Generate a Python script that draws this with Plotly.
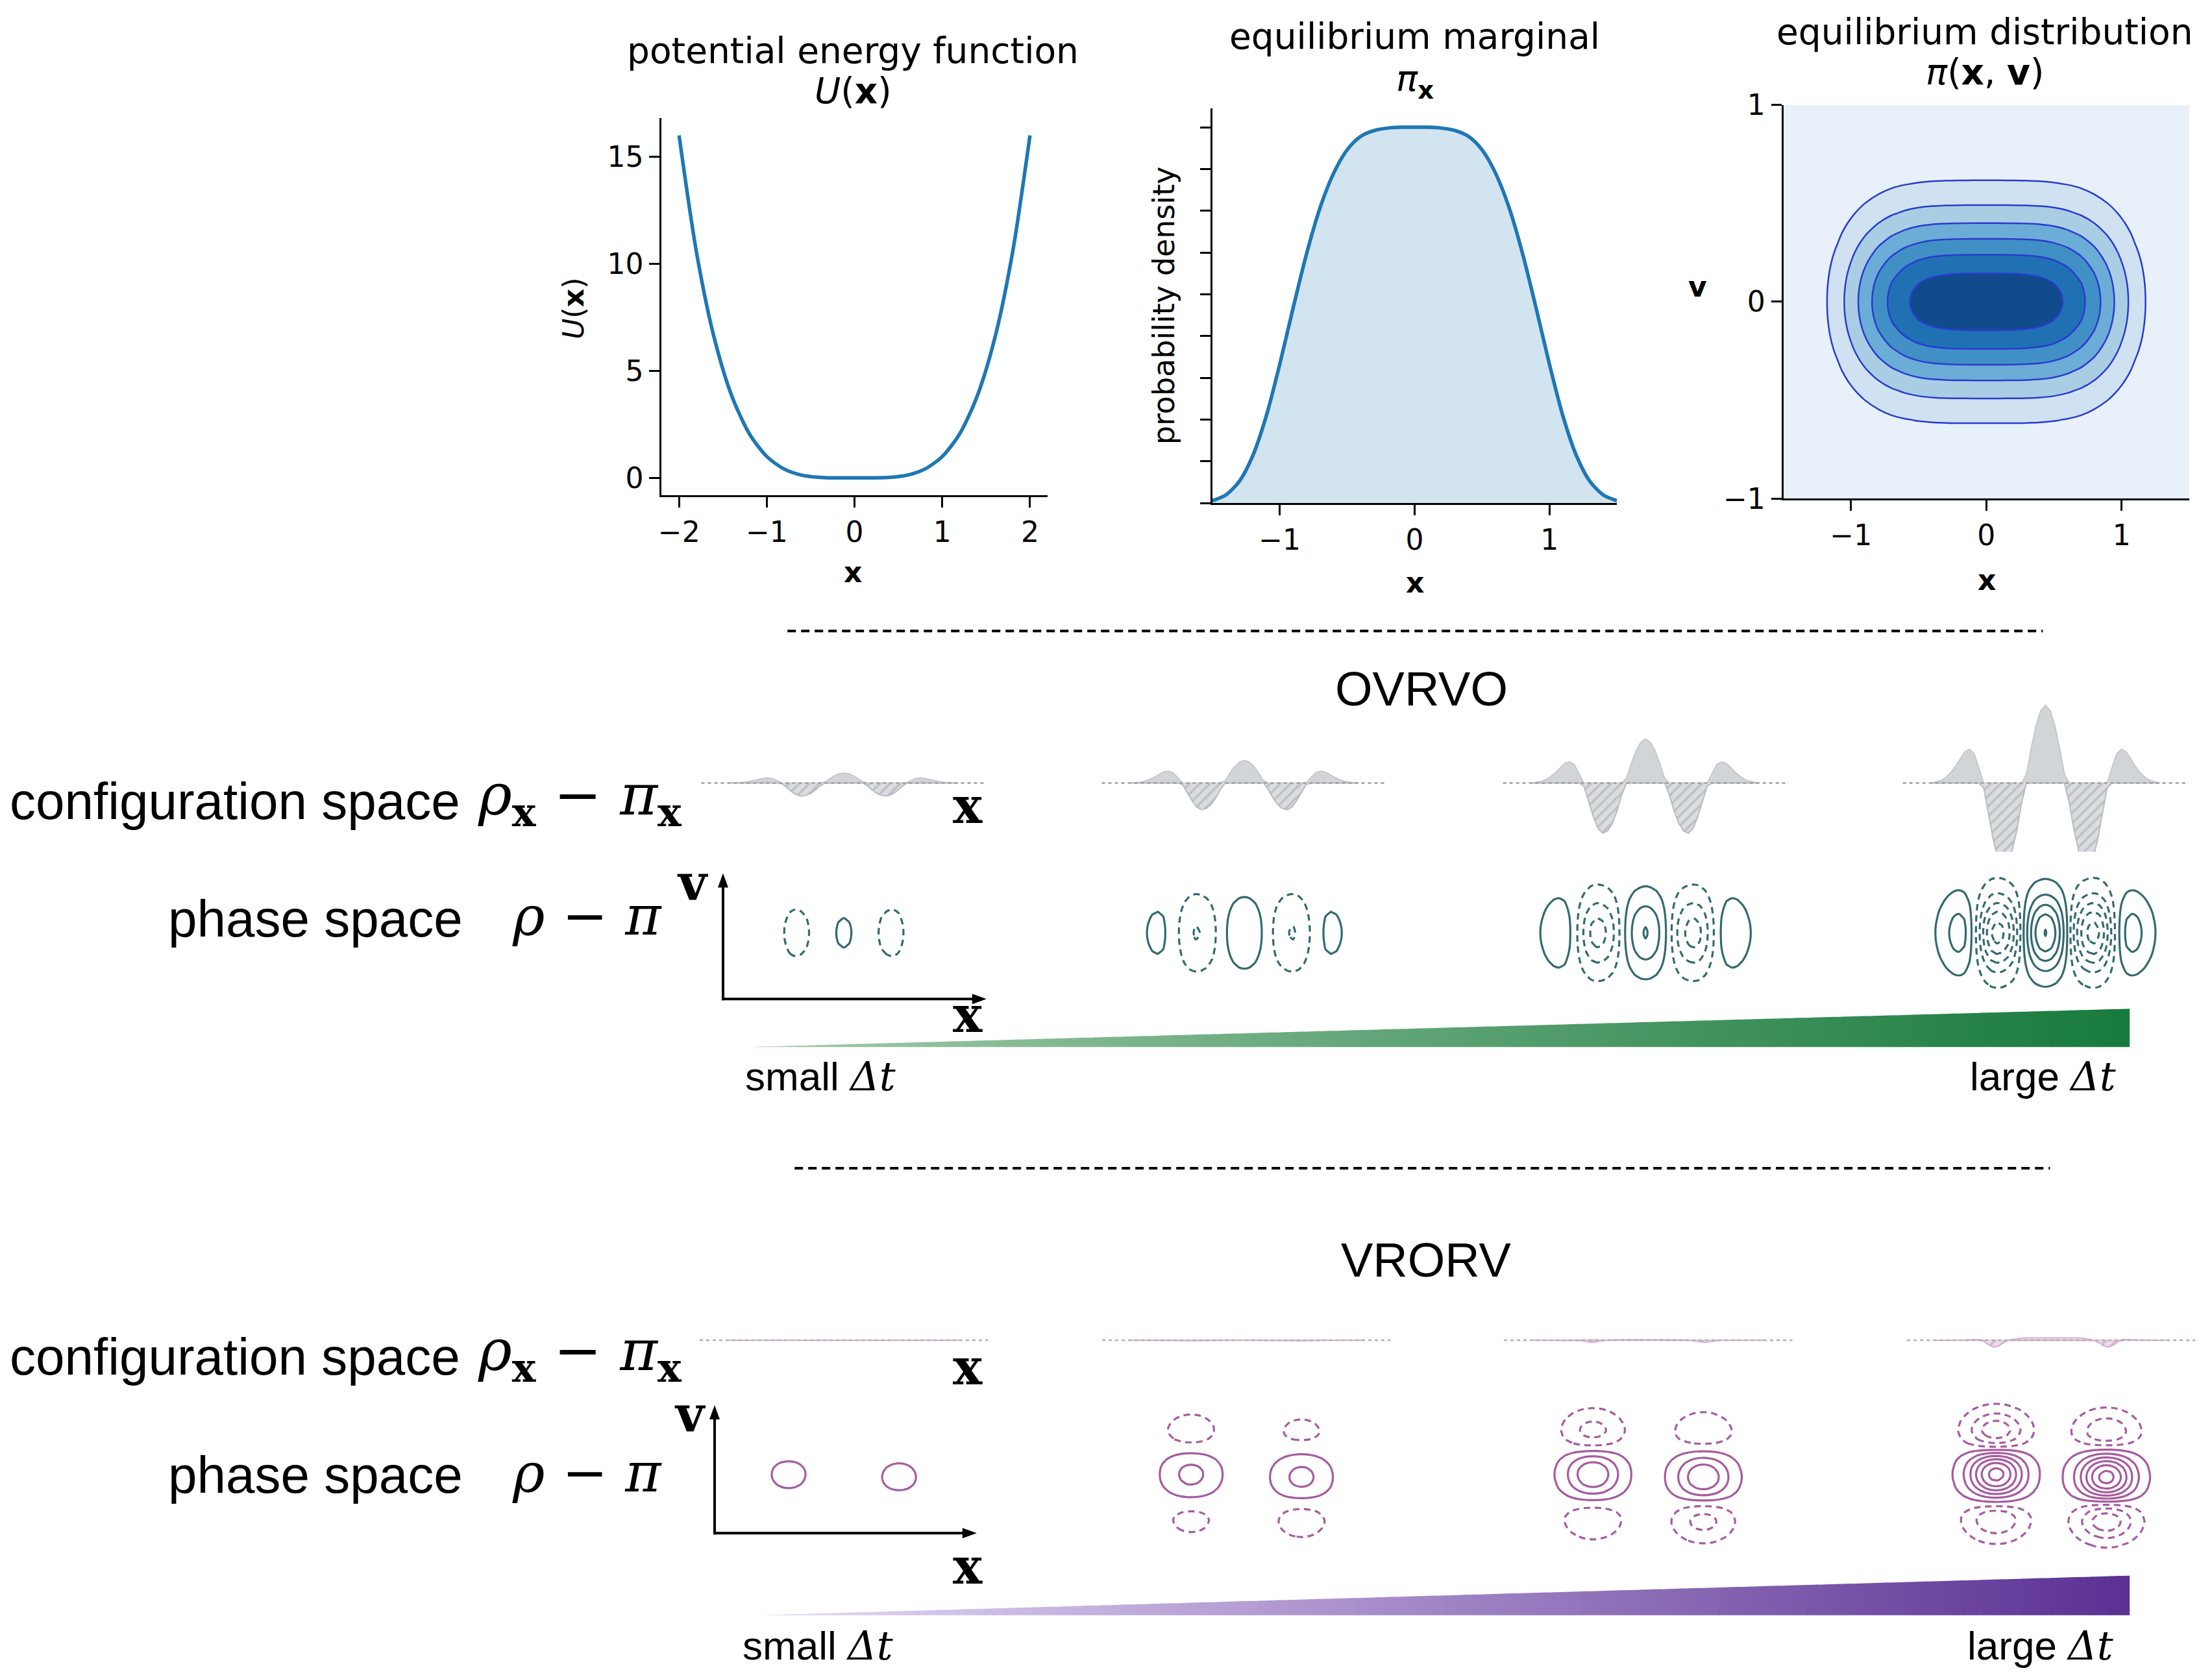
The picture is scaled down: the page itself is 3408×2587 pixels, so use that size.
import plotly.graph_objects as go

W, H = 3408, 2587

# ---------------- data ----------------
u_x = [-2.0, -1.8, -1.6, -1.4, -1.2, -1.0, -0.8, -0.6, -0.4, -0.2, 0.0,
       0.2, 0.4, 0.6, 0.8, 1.0, 1.2, 1.4, 1.6, 1.8, 2.0]
u_vals = [16.0, 10.50, 6.55, 3.84, 2.07, 1.00, 0.41, 0.13, 0.026, 0.002, 0.0,
          0.002, 0.026, 0.13, 0.41, 1.00, 2.07, 3.84, 6.55, 10.50, 16.0]

pi_x_grid = [-1.5, -1.4, -1.3, -1.2, -1.1, -1.0, -0.9, -0.8, -0.7, -0.6, -0.5,
             -0.4, -0.3, -0.2, -0.1, 0.0, 0.1, 0.2, 0.3, 0.4, 0.5,
             0.6, 0.7, 0.8, 0.9, 1.0, 1.1, 1.2, 1.3, 1.4, 1.5]
pi_x_vals = [0.0029, 0.0097, 0.0259, 0.0566, 0.104, 0.166, 0.234, 0.299, 0.354, 0.395, 0.423,
             0.439, 0.446, 0.449, 0.45, 0.45, 0.45, 0.449, 0.446, 0.439, 0.423,
             0.395, 0.354, 0.299, 0.234, 0.166, 0.104, 0.0566, 0.0259, 0.0097, 0.0029]

v_grid = [-1.0, -0.95, -0.9, -0.85, -0.8, -0.75, -0.7, -0.65, -0.6, -0.55, -0.5,
          -0.45, -0.4, -0.35, -0.3, -0.25, -0.2, -0.15, -0.1, -0.05, 0.0,
          0.05, 0.1, 0.15, 0.2, 0.25, 0.3, 0.35, 0.4, 0.45, 0.5,
          0.55, 0.6, 0.65, 0.7, 0.75, 0.8, 0.85, 0.9, 0.95, 1.0]
pi_v_vals = [0.0067, 0.0110, 0.0174, 0.0270, 0.0408, 0.0601, 0.0863, 0.1209, 0.1653, 0.2204, 0.2865,
             0.3633, 0.4493, 0.5420, 0.6376, 0.7316, 0.8187, 0.8936, 0.9512, 0.9876, 1.0,
             0.9876, 0.9512, 0.8936, 0.8187, 0.7316, 0.6376, 0.5420, 0.4493, 0.3633, 0.2865,
             0.2204, 0.1653, 0.1209, 0.0863, 0.0601, 0.0408, 0.0270, 0.0174, 0.0110, 0.0067]

x_diff = [-1.2, -1.15, -1.1, -1.05, -1.0, -0.95, -0.9, -0.85, -0.8, -0.75, -0.7, -0.65,
          -0.6, -0.55, -0.5, -0.45, -0.4, -0.35, -0.3, -0.25, -0.2, -0.15, -0.1, -0.05,
          0.0, 0.05, 0.1, 0.15, 0.2, 0.25, 0.3, 0.35, 0.4, 0.45, 0.5, 0.55,
          0.6, 0.65, 0.7, 0.75, 0.8, 0.85, 0.9, 0.95, 1.0, 1.05, 1.1, 1.15, 1.2]

# OVRVO: rho_x - pi_x for increasing time step
ovrvo_1 = [0.0, 0.002, 0.005, 0.011, 0.020, 0.032, 0.047, 0.061, 0.066, 0.058, 0.030, -0.009,
           -0.058, -0.111, -0.151, -0.166, -0.158, -0.134, -0.092, -0.038, 0.016, 0.058, 0.095, 0.120,
           0.130, 0.120, 0.095, 0.058, 0.016, -0.038, -0.092, -0.134, -0.158, -0.166, -0.151, -0.111,
           -0.058, -0.009, 0.030, 0.058, 0.066, 0.061, 0.047, 0.032, 0.020, 0.011, 0.005, 0.002, 0.0]
ovrvo_2 = [0.0, 0.005, 0.012, 0.025, 0.046, 0.074, 0.110, 0.142, 0.154, 0.135, 0.071, -0.019,
           -0.120, -0.228, -0.310, -0.342, -0.326, -0.276, -0.190, -0.079, 0.035, 0.131, 0.215, 0.271,
           0.291, 0.271, 0.215, 0.131, 0.035, -0.079, -0.190, -0.276, -0.326, -0.342, -0.310, -0.228,
           -0.120, -0.019, 0.071, 0.135, 0.154, 0.142, 0.110, 0.074, 0.046, 0.025, 0.012, 0.005, 0.0]
ovrvo_3 = [0.0, 0.009, 0.022, 0.044, 0.082, 0.132, 0.195, 0.252, 0.274, 0.239, 0.126, -0.036,
           -0.227, -0.429, -0.584, -0.644, -0.614, -0.519, -0.358, -0.149, 0.068, 0.254, 0.418, 0.525,
           0.565, 0.525, 0.418, 0.254, 0.068, -0.149, -0.358, -0.519, -0.614, -0.644, -0.584, -0.429,
           -0.227, -0.036, 0.126, 0.239, 0.274, 0.252, 0.195, 0.132, 0.082, 0.044, 0.022, 0.009, 0.0]
ovrvo_4 = [0.0, 0.015, 0.035, 0.07, 0.13, 0.21, 0.31, 0.40, 0.435, 0.38, 0.20, -0.06,
           -0.38, -0.72, -0.98, -1.08, -1.03, -0.87, -0.60, -0.25, 0.12, 0.45, 0.74, 0.93,
           1.00, 0.93, 0.74, 0.45, 0.12, -0.25, -0.60, -0.87, -1.03, -1.08, -0.98, -0.72,
           -0.38, -0.06, 0.20, 0.38, 0.435, 0.40, 0.31, 0.21, 0.13, 0.07, 0.035, 0.015, 0.0]
ovrvo_config = [ovrvo_1, ovrvo_2, ovrvo_3, ovrvo_4]

# VRORV: configuration marginal error is almost zero
vrorv_1 = [0.0, 0.0, 0.0, 0.0, 0.0, 0.0, 0.0, 0.0, 0.0, 0.0, 0.0, 0.0,
           0.0, 0.0, 0.0, 0.0, 0.0, 0.0, 0.0, 0.0, 0.0, 0.0, 0.0, 0.0,
           0.0, 0.0, 0.0, 0.0, 0.0, 0.0, 0.0, 0.0, 0.0, 0.0, 0.0, 0.0,
           0.0, 0.0, 0.0, 0.0, 0.0, 0.0, 0.0, 0.0, 0.0, 0.0, 0.0, 0.0, 0.0]
vrorv_2 = [0.0, 0.0, 0.0, 0.0, 0.0, 0.0, 0.0, 0.0, 0.001, 0.001, -0.001, -0.005,
           -0.007, -0.006, -0.003, -0.001, 0.001, 0.002, 0.003, 0.003, 0.003, 0.003, 0.003, 0.003,
           0.003, 0.003, 0.003, 0.003, 0.003, 0.003, 0.003, 0.002, 0.001, -0.001, -0.003, -0.006,
           -0.007, -0.005, -0.001, 0.001, 0.001, 0.0, 0.0, 0.0, 0.0, 0.0, 0.0, 0.0, 0.0]
vrorv_3 = [0.0, 0.0, 0.0, 0.0, 0.0, 0.0, 0.001, 0.003, 0.004, 0.003, -0.005, -0.018,
           -0.028, -0.024, -0.012, -0.002, 0.005, 0.008, 0.010, 0.011, 0.011, 0.010, 0.010, 0.010,
           0.010, 0.010, 0.010, 0.010, 0.011, 0.011, 0.010, 0.008, 0.005, -0.002, -0.012, -0.024,
           -0.028, -0.018, -0.005, 0.003, 0.004, 0.003, 0.001, 0.0, 0.0, 0.0, 0.0, 0.0, 0.0]
vrorv_4 = [0.0, 0.0, 0.0, 0.0, 0.0, 0.002, 0.004, 0.008, 0.012, 0.010, -0.015, -0.060,
           -0.090, -0.075, -0.035, -0.005, 0.015, 0.025, 0.030, 0.032, 0.032, 0.031, 0.030, 0.030,
           0.030, 0.030, 0.030, 0.031, 0.032, 0.032, 0.030, 0.025, 0.015, -0.005, -0.035, -0.075,
           -0.090, -0.060, -0.015, 0.010, 0.012, 0.008, 0.004, 0.002, 0.0, 0.0, 0.0, 0.0, 0.0]
vrorv_config = [vrorv_1, vrorv_2, vrorv_3, vrorv_4]

# VRORV phase-space error: lobe profile in x (left lobe), velocity profile (left lobe)
vrorv_lobe_x = [0.0006, 0.0018, 0.0046, 0.0111, 0.0246, 0.0504, 0.0957, 0.168, 0.273, 0.411, 0.573, 0.739,
                0.882, 0.976, 0.998, 0.946, 0.830, 0.674, 0.506, 0.352, 0.227, 0.135, 0.0747, 0.0382,
                0.0181, 0.0079, 0.0032, 0.0012, 0.0004, 0.0001, 0.0, 0.0, 0.0, 0.0, 0.0, 0.0,
                0.0, 0.0, 0.0, 0.0, 0.0, 0.0, 0.0, 0.0, 0.0, 0.0, 0.0, 0.0, 0.0]
vrorv_lobe_v = [-0.013, -0.025, -0.045, -0.076, -0.127, -0.19, -0.267, -0.343, -0.394, -0.42, -0.394,
                -0.305, -0.165, 0.00, 0.15, 0.33, 0.52, 0.70, 0.85, 0.95, 1.00,
                0.99, 0.92, 0.79, 0.61, 0.40, 0.17, -0.055, -0.242, -0.396, -0.495,
                -0.55, -0.539, -0.473, -0.385, -0.286, -0.198, -0.121, -0.072, -0.039, -0.017]
vrorv_amp = [0.16, 0.40, 0.75, 1.3]

u_ticks = [-2, -1, 0, 1, 2]
u_yticks = [0, 5, 10, 15]
marg_xticks = [-1, 0, 1]
marg_yticks = [0.0, 0.05, 0.10, 0.15, 0.20, 0.25, 0.30, 0.35, 0.40, 0.45]

# ---------------- helpers ----------------
# the photographed page shows the figure slightly squeezed vertically;
# target positions (reference pixels) are mapped onto page pixels here
def page_y(y):
    return y * 1.01948 - 25.27

def px(x):
    return x / W

def py(y):
    return 1 - page_y(y) / H

layout = dict(width=W, height=H, margin=dict(l=0, r=0, t=0, b=0),
              paper_bgcolor='white', plot_bgcolor='white', showlegend=False)
shapes = []
annotations = []
traces = []

def axpair(n, x0, x1, ytop, ybot, xr, yr, xextra=None, yextra=None):
    s = '' if n == 1 else str(n)
    if x1 > W:
        scale = (xr[1] - xr[0]) / (x1 - x0)
        xr = [xr[0], xr[1] - (x1 - W) * scale]
        x1 = W
    xa = dict(domain=[px(x0), px(x1)], range=xr, anchor='y' + s, visible=False, fixedrange=True)
    ya = dict(domain=[py(ybot), py(ytop)], range=yr, anchor='x' + s, visible=False, fixedrange=True)
    if xextra:
        xa.update(xextra)
    if yextra:
        ya.update(yextra)
    layout['xaxis' + s] = xa
    layout['yaxis' + s] = ya
    return 'x' + s, 'y' + s

def ann(x, y, text, size, family='Liberation Sans', xanchor='center', angle=0):
    annotations.append(dict(x=px(x), y=py(y), xref='paper', yref='paper', text=text,
                            showarrow=False, xanchor=xanchor, yanchor='middle', textangle=angle,
                            font=dict(family=family, size=size, color='black')))

def seg(x0, y0, x1, y1, w=4, color='black', dash='solid'):
    shapes.append(dict(type='line', xref='paper', yref='paper', x0=px(x0), y0=py(y0),
                       x1=px(x1), y1=py(y1), line=dict(color=color, width=w, dash=dash)))

def poly(pts, color):
    path = 'M ' + ' L '.join(f'{px(a)},{py(b)}' for a, b in pts) + ' Z'
    shapes.append(dict(type='path', path=path, xref='paper', yref='paper',
                       fillcolor=color, line=dict(width=0)))

def grad_tri(tipx, boty, rx, topy, c0, c1, n=140):
    for i in range(n):
        xa = tipx + (rx - tipx) * i / n
        xb = min(rx, tipx + (rx - tipx) * (i + 1) / n + 1.5)
        ya = boty + (topy - boty) * (xa - tipx) / (rx - tipx)
        yb = boty + (topy - boty) * (xb - tipx) / (rx - tipx)
        t = (i + 0.5) / n
        col = 'rgb(%d,%d,%d)' % tuple(round(c0[k] + (c1[k] - c0[k]) * t) for k in range(3))
        poly([(xa, boty), (xa, ya), (xb, yb), (xb, boty)], col)

# ---------------- top panels ----------------
top_axis = dict(visible=True, showline=True, linecolor='black', linewidth=3, ticks='outside',
                ticklen=16, tickwidth=3, tickcolor='black', showgrid=False, zeroline=False,
                tickfont=dict(family='DejaVu Sans', size=44, color='black'))

xa, ya = axpair(1, 1015.7, 1611.3, 181, 762, [-2.2, 2.2], [-0.8, 16.8],
                dict(top_axis, tickvals=u_ticks), dict(top_axis, tickvals=u_yticks))
traces.append(go.Scatter(x=u_x, y=u_vals, mode='lines', line=dict(color='#1f77b4', width=5.5,
                         shape='spline', smoothing=0.8), xaxis=xa, yaxis=ya, hoverinfo='skip'))

xa, ya = axpair(2, 1865.4, 2489.9, 166, 774.5, [-1.5, 1.5], [0, 0.4725],
                dict(top_axis, tickvals=marg_xticks),
                dict(top_axis, tickvals=marg_yticks, showticklabels=False))
traces.append(go.Scatter(x=pi_x_grid, y=pi_x_vals, mode='lines', fill='tozeroy',
                         fillcolor='rgba(31,119,180,0.2)',
                         line=dict(color='#1f77b4', width=5.5, shape='spline', smoothing=0.8),
                         xaxis=xa, yaxis=ya, hoverinfo='skip'))

xa, ya = axpair(3, 2746.6, 3372.9, 160.7, 767.4, [-1.5, 1.5], [-1, 1],
                dict(top_axis, tickvals=marg_xticks), dict(top_axis, tickvals=[-1, 0, 1]))
joint = [[pv * pxv for pxv in pi_x_vals] for pv in pi_v_vals]
blues = ['#e8f1fa', '#d0e2f2', '#a9cee4', '#6badd6', '#4190c5', '#2070b4', '#114b8b']
cs = []
for k, c in enumerate(blues):
    cs.append([k / 7, c])
    cs.append([(k + 1) / 7, c])
traces.append(go.Contour(x=pi_x_grid, y=v_grid, z=joint, zmin=0, zmax=0.4725, autocontour=False,
                         contours=dict(start=0.0675, end=0.405, size=0.0675, coloring='fill'),
                         colorscale=cs, showscale=False,
                         line=dict(color='#2a3bd0', width=2.5, smoothing=1.0),
                         xaxis=xa, yaxis=ya, hoverinfo='skip'))

ann(1311, 77, 'potential energy function', 55, 'DejaVu Sans')
ann(1311, 139, '<i>U</i>(<b>x</b>)', 55, 'DejaVu Sans')
ann(2178, 55, 'equilibrium marginal', 55, 'DejaVu Sans')
ann(2178, 124, '<i>π</i><sub><b>x</b></sub>', 55, 'DejaVu Sans')
ann(3057, 48, 'equilibrium distribution', 55, 'DejaVu Sans')
ann(3057, 110, '<i>π</i>(<b>x</b>, <b>v</b>)', 55, 'DejaVu Sans')
ann(880, 474, '<i>U</i>(<b>x</b>)', 44, 'DejaVu Sans', angle=-90)
ann(1791, 470, 'probability density', 46, 'DejaVu Sans', angle=-90)
ann(1311, 881, '<b>x</b>', 44, 'DejaVu Sans')
ann(2178, 897, '<b>x</b>', 44, 'DejaVu Sans')
ann(3060, 893, '<b>x</b>', 44, 'DejaVu Sans')
ann(2614, 441, '<b>v</b>', 44, 'DejaVu Sans')

# ---------------- lower two blocks ----------------
MATH = 'DejaVu Serif'
config_math = '<i>ρ</i><sub><b>x</b></sub> − <i>π</i><sub><b>x</b></sub>'

blocks = [
    dict(name='OVRVO', name_xy=(2188, 1061), sep_y=971.5, sep_x=(1210, 3147),
         centers=[1297, 1915, 2534, 3151], cfg_w=440, base_y=1206, ph_y=1437, ph_w=501,
         cfg=ovrvo_config, kind='ovrvo', label_y=1234, ph_label_y=1415,
         x1_xy=(1488, 1241), v_xy=(1064, 1359), x2_xy=(1488, 1563),
         axis_x=1110.6, axis_y=1539, vtip=1345, htip=1517,
         tri=(1152, 1613, 3281, 1554), c0=(161, 202, 170), c1=(23, 122, 60), dt_y=1658,
         dt_small_x=1261, dt_large_x=3147,
         line='#336a6e', pos_fill='#d1d5d8', pos_line='#bfc3c7', hatch_bg='#dadde0',
         hatch_fg='#bcc0c4', neg_line='#b8bcc0', base_col='#9e9e9e'),
    dict(name='VRORV', name_xy=(2195, 1941), sep_y=1800, sep_x=(1221, 3158),
         centers=[1297, 1918, 2538, 3160], cfg_w=445, base_y=2065, ph_y=2274, ph_w=501,
         cfg=vrorv_config, kind='vrorv', label_y=2091, ph_label_y=2273,
         x1_xy=(1488, 2107), v_xy=(1060, 2179), x2_xy=(1488, 2414),
         axis_x=1097.6, axis_y=2362.6, vtip=2165, htip=1502,
         tri=(1167, 2489, 3281, 2428), c0=(228, 218, 246), c1=(91, 48, 147), dt_y=2536,
         dt_small_x=1257, dt_large_x=3143,
         line='#a65b9e', pos_fill='#e8cfe2', pos_line='#d9b7d1', hatch_bg='#eddaea',
         hatch_fg='#d6b6cf', neg_line='#d3b0cb', base_col='#b9a9b6'),
]

n_ax = 4
for b in blocks:
    seg(b['sep_x'][0], b['sep_y'], b['sep_x'][1], b['sep_y'], w=4, dash='13px,8px')
    ann(b['name_xy'][0], b['name_xy'][1], b['name'], 74)

    for k in range(4):
        c = b['centers'][k]
        xa, ya = axpair(n_ax, c - b['cfg_w'] / 2, c + b['cfg_w'] / 2,
                        b['base_y'] - 144, b['base_y'] + 144, [-1.5, 1.5], [-1.2, 1.2])
        n_ax += 1
        d = b['cfg'][k]
        pos = [max(v, 0.0) for v in d]
        neg = [min(v, 0.0) for v in d]
        traces.append(go.Scatter(x=x_diff, y=pos, mode='lines', fill='tozeroy',
                                 fillcolor=b['pos_fill'], line=dict(color=b['pos_line'], width=1.5),
                                 xaxis=xa, yaxis=ya, hoverinfo='skip'))
        traces.append(go.Scatter(x=x_diff, y=neg, mode='lines', fill='tozeroy',
                                 fillpattern=dict(shape='/', size=11, solidity=0.3, fillmode='replace',
                                                  bgcolor=b['hatch_bg'], fgcolor=b['hatch_fg']),
                                 line=dict(color=b['neg_line'], width=2),
                                 xaxis=xa, yaxis=ya, hoverinfo='skip'))
        shapes.append(dict(type='line', xref=xa + ' domain', yref=ya, x0=0, x1=1, y0=0, y1=0,
                           line=dict(color=b['base_col'], width=2.5, dash='5px,5px'), layer='above'))

        xa, ya = axpair(n_ax, c - b['ph_w'] / 2, c + b['ph_w'] / 2,
                        b['ph_y'] - 125, b['ph_y'] + 125, [-1.5, 1.5], [-1, 1])
        n_ax += 1
        if b['kind'] == 'ovrvo':
            z = [[pv * dv for dv in d] for pv in pi_v_vals]
        else:
            A = vrorv_amp[k]
            nx, nv = len(x_diff), len(v_grid)
            z = [[A * (vrorv_lobe_v[j] * vrorv_lobe_x[i] +
                       vrorv_lobe_v[nv - 1 - j] * vrorv_lobe_x[nx - 1 - i])
                  for i in range(nx)] for j in range(nv)]
        traces.append(go.Contour(x=x_diff, y=v_grid, z=z, autocontour=False, showscale=False,
                                 contours=dict(start=0.11, end=1.6, size=0.22, coloring='none'),
                                 line=dict(color=b['line'], width=3.2, smoothing=1.0),
                                 xaxis=xa, yaxis=ya, hoverinfo='skip'))
        traces.append(go.Contour(x=x_diff, y=v_grid, z=z, autocontour=False, showscale=False,
                                 contours=dict(start=-1.65, end=-0.11, size=0.22, coloring='none'),
                                 line=dict(color=b['line'], width=3.2, smoothing=1.0, dash='10px,7px'),
                                 xaxis=xa, yaxis=ya, hoverinfo='skip'))

    ann(8, b['label_y'], 'configuration space', 80, xanchor='left')
    ann(730, b['label_y'] - 4, config_math, 88, MATH, xanchor='left')
    ann(252, b['ph_label_y'], 'phase space', 80, xanchor='left')
    ann(783, b['ph_label_y'] - 4, '<i>ρ</i> − <i>π</i>', 84, MATH, xanchor='left')
    ann(b['x1_xy'][0], b['x1_xy'][1], '<b>x</b>', 76, MATH)
    ann(b['v_xy'][0], b['v_xy'][1], '<b>v</b>', 76, MATH)
    ann(b['x2_xy'][0], b['x2_xy'][1], '<b>x</b>', 76, MATH)

    ax0, ay0 = b['axis_x'], b['axis_y']
    seg(ax0, ay0 + 2, ax0, b['vtip'] + 18, w=4)
    poly([(ax0, b['vtip']), (ax0 - 8, b['vtip'] + 22), (ax0 + 8, b['vtip'] + 22)], 'black')
    seg(ax0 - 2, ay0, b['htip'] - 18, ay0, w=4)
    poly([(b['htip'], ay0), (b['htip'] - 22, ay0 - 8), (b['htip'] - 22, ay0 + 8)], 'black')

    tx, tby, trx, tty = b['tri']
    grad_tri(tx, tby, trx, tty, b['c0'], b['c1'])
    dt = '<span style="font-family:DejaVu Serif"><i>Δt</i></span>'
    ann(b['dt_small_x'], b['dt_y'], 'small ' + dt, 62)
    ann(b['dt_large_x'], b['dt_y'], 'large ' + dt, 62)

layout['shapes'] = shapes
layout['annotations'] = annotations
fig = go.Figure(data=traces, layout=layout)
fig.write_html('out.html', config={'displayModeBar': False},
               post_script="document.body.style.margin='0';document.body.style.padding='0';"
                           "document.documentElement.style.overflow='hidden';"
                           "document.body.style.overflow='hidden';")
